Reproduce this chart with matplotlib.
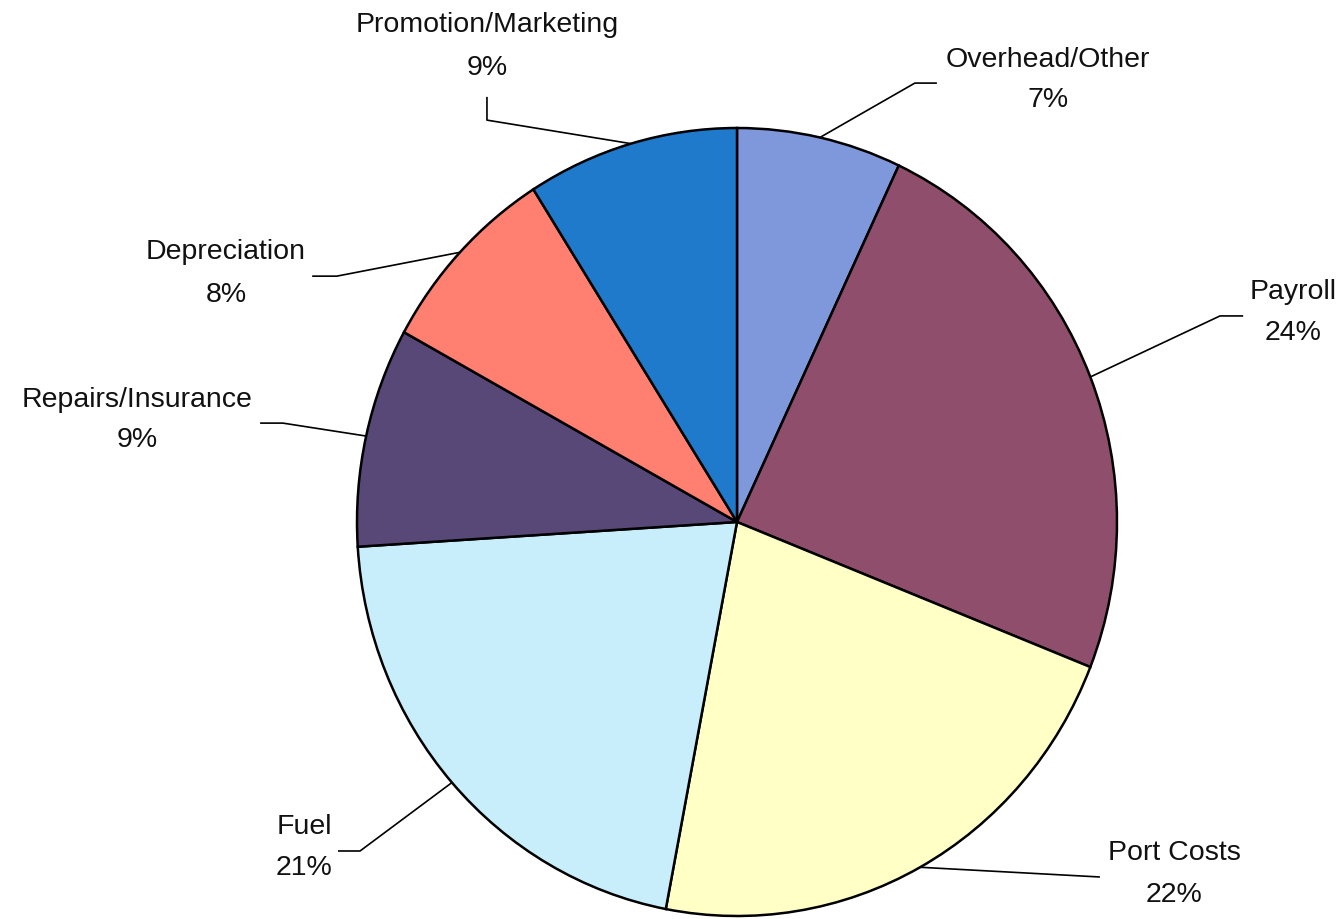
import matplotlib
matplotlib.use("Agg")
import matplotlib.pyplot as plt
import numpy as np

# Operating cost breakdown
categories = ["Overhead/Other", "Payroll", "Port Costs", "Fuel",
              "Repairs/Insurance", "Depreciation", "Promotion/Marketing"]
shares = [7, 24, 22, 21, 9, 8, 9]
colors = ["#7f97db", "#8f4f6c", "#ffffc6", "#c8edfb", "#574878", "#ff8070", "#1f7acb"]

# Label layout (axes data units): text x, name y, percent y, leader elbow, leader end
label_layout = {
    "Overhead/Other":      dict(tx=0.818, ny=1.173, py=1.071, elbow=(0.468, 1.114), end=(0.526, 1.114)),
    "Payroll":             dict(tx=1.463, ny=0.584, py=0.480, elbow=(1.271, 0.523), end=(1.332, 0.523)),
    "Port Costs":          dict(tx=1.150, ny=-0.840, py=-0.947, elbow=(0.955, -0.901), end=(0.955, -0.901)),
    "Fuel":                dict(tx=-1.139, ny=-0.774, py=-0.878, elbow=(-0.992, -0.835), end=(-1.050, -0.835)),
    "Repairs/Insurance":   dict(tx=-1.579, ny=0.310, py=0.208, elbow=(-1.195, 0.251), end=(-1.255, 0.251)),
    "Depreciation":        dict(tx=-1.345, ny=0.685, py=0.576, elbow=(-1.053, 0.624), end=(-1.118, 0.624)),
    "Promotion/Marketing": dict(tx=-0.658, ny=1.261, py=1.152, elbow=(-0.658, 1.020), end=(-0.658, 1.079)),
}

W, H = 1343, 919
fig = plt.figure(figsize=(W / 100, H / 100), dpi=100)
ax = fig.add_axes([0, 0, 1, 1])

# Pie centre and radii in pixels (slightly taller than wide)
cx, cy, rx, ry = 737, 522, 380, 394

wedges, _ = ax.pie(shares, colors=colors, startangle=90, counterclock=False,
                   radius=1.0, center=(0, 0), frame=True,
                   wedgeprops=dict(edgecolor="black", linewidth=1.8))
ax.set_aspect("auto")
ax.set_xlim(-cx / rx, (W - cx) / rx)
ax.set_ylim(-(H - cy) / ry, cy / ry)
ax.set_axis_off()

font = dict(family="Liberation Sans", fontsize=20.5, color="#111111")

total = float(sum(shares))
for w, name, val in zip(wedges, categories, shares):
    mid = np.deg2rad((w.theta1 + w.theta2) / 2.0)
    sx, sy = np.cos(mid), np.sin(mid)
    lay = label_layout[name]
    ex, ey = lay["elbow"]
    fx, fy = lay["end"]
    ax.plot([sx, ex, fx], [sy, ey, fy], color="black", linewidth=1.2,
            solid_capstyle="butt", zorder=1)
    ax.text(lay["tx"], lay["ny"], name, ha="center", va="center", **font)
    ax.text(lay["tx"], lay["py"], f"{val / total * 100:.0f}%", ha="center", va="center", **font)

fig.savefig("out.png", dpi=100, facecolor="white")
